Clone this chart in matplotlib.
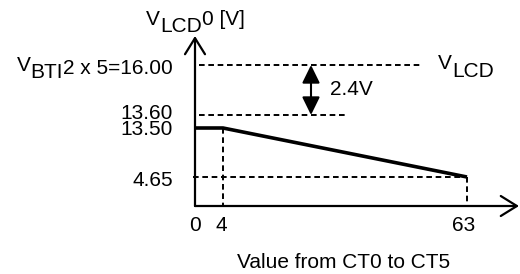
import numpy as np
import matplotlib
matplotlib.use("Agg")
import matplotlib.pyplot as plt
from matplotlib.patches import ArrowStyle

# ---------------- data ----------------
x_values = [0, 4, 63]
y_values = [13.5, 13.5, 4.65]
x_tick_vals = [0, 4, 63]
x_tick_labels = ["0", "4", "63"]
y_tick_vals = [13.6, 13.5, 4.65]
y_tick_labels = ["13.60", "13.50", "4.65"]
v_top = 16.0
v_top_label = "2 x 5=16.00"
delta_label = "2.4V"
x_title = "Value from CT0 to CT5"

# ---------------- layout (schematic, non-linear axes) ----------------
W, H = 520, 274
X_SRC, X_DST = [0, 4, 63], [195, 223, 467]                 # data -> pixel x
Y_SRC, Y_DST = [0, 4.65, 13.5, 13.6, 16], [206, 177, 128, 115, 65]  # data -> pixel y (from top)
FS = 15
FONT = "Liberation Sans"
plt.rcParams["font.family"] = [FONT, "DejaVu Sans"]


def piecewise(src, dst):
    s = np.asarray(src, float)
    d = np.asarray(dst, float)

    def f(v):
        v = np.asarray(v, float)
        out = np.interp(v, s, d)
        out = np.where(v < s[0], d[0] + (v - s[0]) * (d[1] - d[0]) / (s[1] - s[0]), out)
        out = np.where(v > s[-1], d[-1] + (v - s[-1]) * (d[-1] - d[-2]) / (s[-1] - s[-2]), out)
        return out
    return f


fx = piecewise(X_SRC, X_DST)
fx_inv = piecewise(X_DST, X_SRC)
Y_UP = [H - p for p in Y_DST]
fy = piecewise(Y_SRC, Y_UP)
fy_inv = piecewise(Y_UP, Y_SRC)


def px_x(p):
    return float(fx_inv(p))


def px_y(p):
    return float(fy_inv(H - p))


fig = plt.figure(figsize=(W / 100, H / 100), dpi=100)
ax = fig.add_axes([0, 0, 1, 1])
ax.set_xscale("function", functions=(fx, fx_inv))
ax.set_yscale("function", functions=(fy, fy_inv))
ax.set_xlim(px_x(0), px_x(W))
ax.set_ylim(px_y(H), px_y(0))
ax.axis("off")

PT = 0.72  # px -> points at 100 dpi
dash = (0, (2.9, 1.9))
dash_lw = 1.4

# axes arrows
axis_style = ArrowStyle("->", head_length=0.58, head_width=0.36)
ax.annotate("", xy=(0, px_y(36)), xytext=(0, 0),
            arrowprops=dict(arrowstyle=axis_style, mutation_scale=20, lw=1.6,
                            color="black", shrinkA=0, shrinkB=0))
ax.annotate("", xy=(px_x(519), 0), xytext=(0, 0),
            arrowprops=dict(arrowstyle=axis_style, mutation_scale=20, lw=1.6,
                            color="black", shrinkA=0, shrinkB=0))

# dashed guide lines
ax.plot([px_x(199), px_x(420)], [v_top, v_top], color="black", lw=dash_lw, ls=dash)
ax.plot([px_x(199), px_x(346)], [y_tick_vals[0], y_tick_vals[0]], color="black", lw=dash_lw, ls=dash)
ax.plot([px_x(193), x_values[2]], [y_values[2], y_values[2]], color="black", lw=dash_lw, ls=dash)
ax.plot([x_values[1], x_values[1]], [y_values[1], 0], color="black", lw=dash_lw, ls=dash)
ax.plot([x_values[2], x_values[2]], [y_values[2], 0], color="black", lw=dash_lw, ls=dash)

# main characteristic line
ax.plot(x_values, y_values, color="black", lw=2.6, solid_capstyle="butt", solid_joinstyle="miter")

# 2.4 V double arrow
dstyle = ArrowStyle("<|-|>", head_length=0.55, head_width=0.27)
ax.annotate("", xy=(px_x(311), v_top), xytext=(px_x(311), y_tick_vals[0]),
            arrowprops=dict(arrowstyle=dstyle, mutation_scale=20, lw=1.5,
                            color="black", shrinkA=0, shrinkB=0))
ax.text(px_x(330), px_y(95), delta_label, fontsize=FS, ha="left", va="baseline")


def chain_right(pieces, x, y, size=FS):
    """pieces: list of (text, dy_px) left to right; last piece right-aligned at (x, y)."""
    prev = ax.text(x, y, pieces[-1][0], fontsize=size, ha="right", va="baseline")
    prev_dy = pieces[-1][1]
    for s, dy in reversed(pieces[:-1]):
        prev = ax.annotate(s, xy=(0, 0), xycoords=prev, xytext=(0, -(dy - prev_dy) * PT),
                           textcoords="offset points", fontsize=size, ha="right", va="bottom")
        prev_dy = dy


def chain_left(pieces, x, y, size=FS):
    prev = ax.text(x, y, pieces[0][0], fontsize=size, ha="left", va="baseline")
    prev_dy = pieces[0][1]
    for s, dy in pieces[1:]:
        prev = ax.annotate(s, xy=(1, 0), xycoords=prev, xytext=(0, -(dy - prev_dy) * PT),
                           textcoords="offset points", fontsize=size, ha="left", va="bottom")
        prev_dy = dy


# y axis title
chain_left([("V", 0), ("LCD", 7), ("0 [V]", 0)], px_x(146), px_y(25))
# right V_LCD label
chain_left([("V", 0), ("LCD", 8)], px_x(438), px_y(69))
# 16.00 label
chain_right([("V", -3), ("BTI", 4), (v_top_label, 0)], px_x(173), px_y(74))

# y tick labels
y_base_px = [119, 135, 186]
for lab, bp in zip(y_tick_labels, y_base_px):
    ax.text(px_x(173), px_y(bp), lab, fontsize=FS, ha="right", va="baseline")

# x tick labels (slightly left of their ticks, as in the reference)
x_lab_shift_px = [0, -2, -3]
for v, lab, sh in zip(x_tick_vals, x_tick_labels, x_lab_shift_px):
    ax.annotate(lab, xy=(v, px_y(231)), xytext=(sh * PT, 0), textcoords="offset points",
                fontsize=FS, ha="center", va="baseline")

ax.text(px_x(237), px_y(268), x_title, fontsize=FS, ha="left", va="baseline")

fig.savefig("out.png", dpi=100)
